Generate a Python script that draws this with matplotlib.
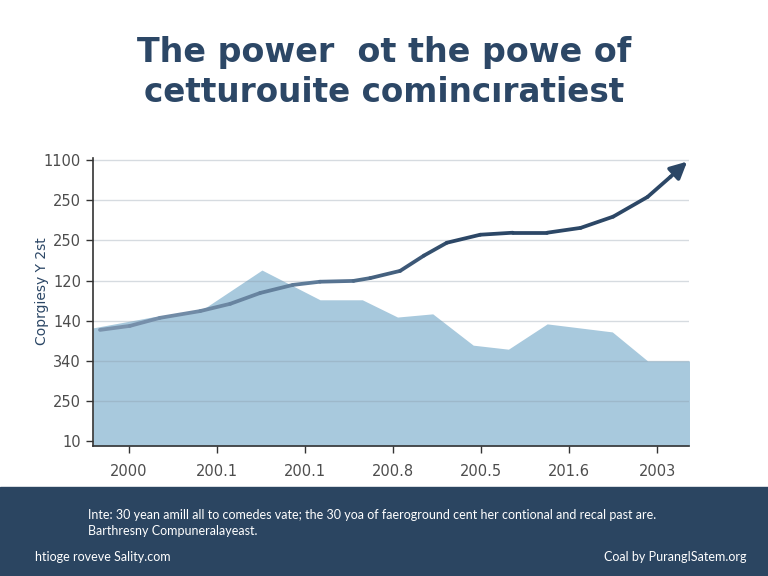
import numpy as np
import matplotlib.pyplot as plt
from matplotlib.collections import LineCollection
from matplotlib.colors import LinearSegmentedColormap

# tick labels as printed on the chart
x_labels = ["2000", "200.1", "200.1", "200.8", "200.5", "201.6", "2003"]
y_labels = ["10", "250", "340", "140", "120", "250", "250", "1100"]

# shaded area (x in tick-index units, y in gridline-index units)
area_x = [-0.41, 0.26, 0.81, 1.51, 2.17, 2.65, 3.05, 3.45, 3.91, 4.31, 4.75, 5.49, 5.89, 6.38]
area_y = [2.82, 3.09, 3.24, 4.26, 3.52, 3.52, 3.09, 3.17, 2.39, 2.29, 2.92, 2.72, 2.00, 2.00]

# trend line
trend_x = [-0.33, 0.01, 0.35, 0.81, 1.15, 1.49, 1.86, 2.17, 2.55, 2.74, 3.08, 3.35, 3.61,
           3.99, 4.36, 4.75, 5.13, 5.50, 5.89, 6.15, 6.34]
trend_y = [2.77, 2.87, 3.07, 3.24, 3.42, 3.69, 3.89, 3.97, 3.99, 4.06, 4.24, 4.62, 4.94,
           5.14, 5.19, 5.19, 5.31, 5.59, 6.08, 6.58, 6.96]

navy = "#2c4766"
fill_col = "#a8c9dd"

fig = plt.figure(figsize=(7.68, 5.76), dpi=100)
ax = fig.add_axes([0.121, 0.2257, 0.776, 0.5])

ax.fill_between(area_x, area_y, -0.12, color=fill_col, lw=0, zorder=1)

for i in range(1, len(y_labels)):
    ax.axhline(i, color="#8a9aa8", alpha=0.35, lw=1, zorder=2)

# trend line with light-to-dark gradient
pts = np.column_stack([trend_x[:-1], trend_y[:-1]])
segs = np.stack([pts[:-1], pts[1:]], axis=1)
cmap = LinearSegmentedColormap.from_list("tr", ["#7a93ad", "#5f7c99", navy, navy])
lc = LineCollection(segs, cmap=cmap, lw=2.7, capstyle="round", joinstyle="round", zorder=3)
lc.set_array(np.linspace(0, 1, len(segs)))
ax.add_collection(lc)
ax.annotate("", xy=(trend_x[-1], trend_y[-1]), xytext=(trend_x[-2], trend_y[-2]),
            arrowprops=dict(arrowstyle="-|>,head_length=1.0,head_width=0.5",
                            color=navy, lw=2.7, shrinkA=0, shrinkB=0), zorder=4)

ax.set_xlim(-0.41, 6.36)
ax.set_ylim(-0.12, 7.05)
ax.set_xticks(range(len(x_labels)))
ax.set_xticklabels(x_labels)
ax.set_yticks(range(len(y_labels)))
ax.set_yticklabels(y_labels)
ax.tick_params(axis="both", colors="#333333", labelcolor="#4d4d4d", labelsize=10.5,
               length=5, width=1)
ax.tick_params(axis="x", pad=8)
for s in ["top", "right"]:
    ax.spines[s].set_visible(False)
for s in ["left", "bottom"]:
    ax.spines[s].set_color("#333333")
    ax.spines[s].set_linewidth(1.2)

fig.text(0.055, 0.495, "Coprgiesy Y 2st", rotation=90, ha="center", va="center",
         fontsize=10, color=navy)

fig.text(0.5, 0.908, "The power  ot the powe of", ha="center", va="center",
         fontsize=24, fontweight="bold", color=navy)
fig.text(0.5, 0.84, "cetturouite comincıratiest", ha="center", va="center",
         fontsize=23.5, fontweight="bold", color=navy)

# footer banner
fig.patches.append(plt.Rectangle((0, 0), 1, 0.155, transform=fig.transFigure,
                                 color="#2b4561", zorder=0))
foot = dict(fontsize=9, color="white", va="center", family="Lato")
fig.text(0.115, 0.106, "Inte: 30 yean amill all to comedes vate; the 30 yoa of faeroground "
         "cent her contional and recal past are.", **foot)
fig.text(0.115, 0.078, "Barthresny Compuneralayeast.", **foot)
fig.text(0.045, 0.033, "htioge roveve Sality.com", **foot)
fig.text(0.972, 0.033, "Coal by PurangISatem.org", ha="right", **foot)

fig.savefig("out.png", dpi=100)
